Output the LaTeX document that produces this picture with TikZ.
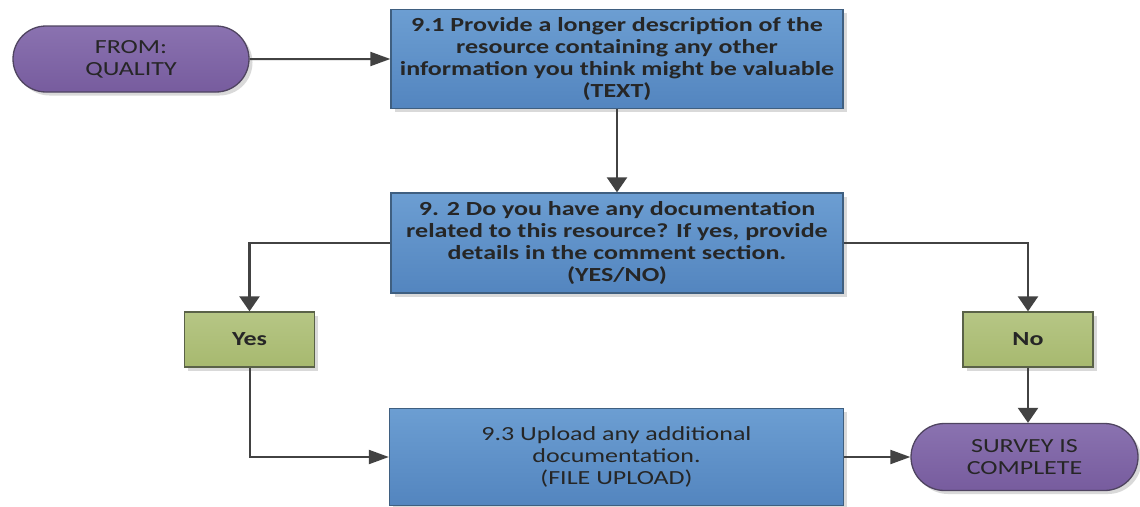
\documentclass[tikz,border=0pt]{standalone}
\usepackage{fontspec}
\setmainfont{Carlito}[FakeStretch=1.3]
\usetikzlibrary{shapes.misc,shadows,arrows.meta}
\definecolor{bluetop}{HTML}{6C9ED2}
\definecolor{bluebot}{HTML}{5385BF}
\definecolor{blueedge}{HTML}{3F5F80}
\definecolor{purptop}{HTML}{8A72B0}
\definecolor{purpbot}{HTML}{775C9E}
\definecolor{purpedge}{HTML}{4F4460}
\definecolor{greentop}{HTML}{B6C685}
\definecolor{greenbot}{HTML}{A7B96F}
\definecolor{greenedge}{HTML}{5A6248}
\definecolor{txt}{HTML}{262626}
\definecolor{linecol}{HTML}{424242}
\begin{document}
\begin{tikzpicture}[x=1pt,y=-1pt,
  base/.style={draw, line width=1.3pt, inner sep=0pt, align=center, text=txt,
    font=\fontsize{20}{21.7}\selectfont,
    drop shadow={shadow xshift=3.5pt,shadow yshift=-3.5pt,fill=black,opacity=0.15}},
  procbox/.style={base, rectangle, draw=blueedge, top color=bluetop, bottom color=bluebot,
    minimum width=452pt},
  choicebox/.style={base, rectangle, draw=greenedge, top color=greentop, bottom color=greenbot,
    minimum width=130pt, minimum height=55pt, font=\fontsize{20}{21.7}\selectfont\bfseries},
  termbox/.style={base, rounded rectangle, draw=purpedge, top color=purptop, bottom color=purpbot,
    minimum height=66pt},
  hconn/.style={draw=linecol, line width=2pt, -{Triangle[length=20pt,width=14pt]}},
  vconn/.style={draw=linecol, line width=2.4pt, -{Triangle[length=15pt,width=20pt]}}]
\useasboundingbox (0,0) rectangle (1140,506);
\node[termbox, minimum width=236pt] (q) at (131,59) {FROM:\\QUALITY};
\node[procbox, minimum height=99pt, font=\fontsize{20}{21.7}\selectfont\bfseries] (b1) at (617,59)
  {9.1 Provide a longer description of the\\resource containing any other\\information you think might be valuable\\(TEXT)};
\node[procbox, minimum height=100pt, font=\fontsize{20}{21.7}\selectfont\bfseries] (b2) at (617,243)
  {9. 2 Do you have any documentation\\related to this resource? If yes, provide\\details in the comment section.\\(YES/NO)};
\node[choicebox] (yes) at (249.5,339.5) {Yes};
\node[choicebox] (no) at (1028,339.5) {No};
\node[procbox, minimum width=454pt, minimum height=97pt] (b3) at (616.5,457)
  {9.3 Upload any additional\\documentation.\\(FILE UPLOAD)};
\node[termbox, minimum width=227pt, minimum height=67pt] (surv) at (1024.5,457) {SURVEY IS\\COMPLETE};
\draw[hconn] (q) -- (b1);
\draw[vconn] (b1) -- (b2);
\draw[vconn] (b2.west) -| (yes.north);
\draw[vconn] (b2.east) -| (no.north);
\draw[hconn] (yes.south) |- (b3.west);
\draw[hconn] (b3) -- (surv);
\draw[vconn] (no.south) -- (no.south |- surv.north);
\end{tikzpicture}
\end{document}
